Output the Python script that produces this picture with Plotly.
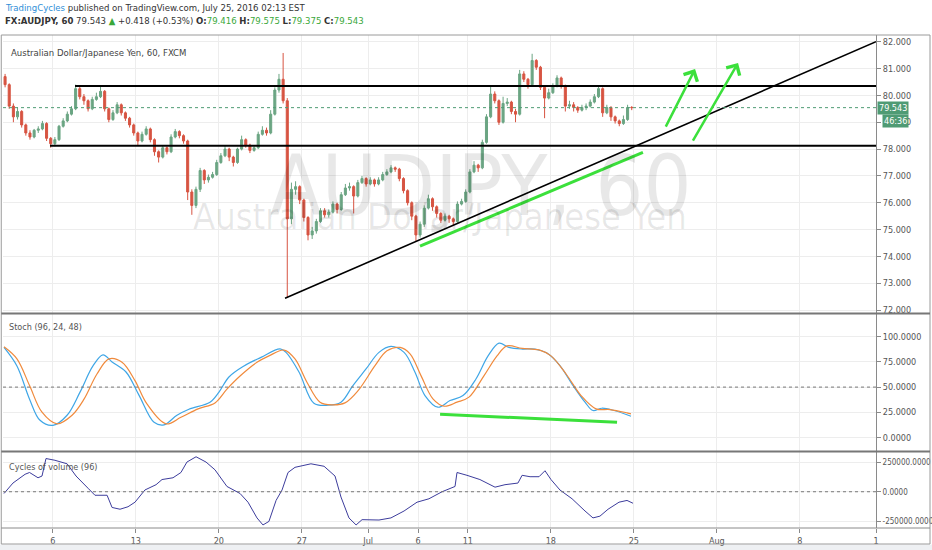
"""
AUD/JPY 60 - TradingView snapshot with Stoch and Cycles of volume panes
"""

import plotly.graph_objects as go

# ---- price data: 6-hour bars, x = trading days since Jun 1 2016 ----
first_open = 80.7
bars_per_day = 4

closes = [80.4, 79.6, 79.2, 79.4, 78.9, 78.6, 78.45, 78.7, 78.75, 78.95,
          78.4, 78.2, 78.35, 78.85, 79.05, 79.3, 79.5, 80.25, 79.95, 79.8,
          79.5, 79.85, 79.95, 80.15, 79.5, 79.1, 79.35, 79.65, 79.35, 79.15,
          78.9, 78.6, 78.3, 78.55, 78.75, 78.35, 77.9, 77.7, 78.05, 77.9,
          78.45, 78.65, 78.5, 78.3, 76.4, 75.9, 76.5, 77.2, 76.85, 76.95,
          77.05, 77.5, 77.75, 78.0, 77.7, 77.5, 78.0, 78.35, 78.15, 77.95,
          78.05, 78.55, 78.7, 78.6, 79.3, 80.2, 80.6, 79.8, 75.4, 76.5,
          76.6, 76.1, 75.45, 74.8, 74.95, 75.3, 75.7, 75.55, 75.65, 75.95,
          75.75, 76.3, 76.55, 76.6, 76.25, 76.75, 76.9, 76.7, 76.85, 76.7,
          76.85, 77.05, 77.15, 77.3, 77.25, 76.9, 76.45, 76.0, 75.5, 74.8,
          75.2, 75.8, 76.15, 75.85, 75.6, 75.35, 75.5, 75.4, 75.3, 75.95,
          76.05, 76.4, 77.15, 77.4, 77.3, 78.25, 79.2, 80.05, 79.8, 79.0,
          79.7, 79.75, 79.4, 79.3, 80.8, 80.6, 80.4, 81.3, 81.05, 80.3,
          79.9, 80.1, 80.35, 80.65, 80.35, 79.6, 79.65, 79.55, 79.45, 79.55,
          79.6, 79.75, 79.95, 80.25, 79.35, 79.55, 79.2, 79.05, 78.95, 79.1,
          79.55, 79.543]

highs = [80.8, 80.45, 79.7, 79.55, 79.45, 78.95, 78.7, 78.75, 78.85, 79.05,
         79.0, 78.45, 78.45, 78.9, 79.15, 79.4, 79.6, 80.4, 80.35, 80.05,
         79.85, 79.95, 80.1, 80.35, 80.2, 79.55, 79.45, 79.75, 79.7, 79.4,
         79.2, 78.95, 78.65, 78.65, 78.85, 78.8, 78.4, 77.95, 78.15, 78.1,
         78.55, 78.75, 78.7, 78.55, 78.35, 76.5, 76.6, 77.3, 77.25, 77.05,
         77.15, 77.6, 77.85, 78.15, 78.05, 77.75, 78.05, 78.5, 78.4, 78.2,
         78.15, 78.65, 78.85, 78.8, 79.45, 80.3, 80.8, 81.58, 79.9, 76.75,
         76.8, 76.65, 76.15, 75.5, 75.1, 75.4, 75.8, 75.8, 75.75, 76.05,
         76.0, 76.4, 76.7, 76.75, 76.65, 76.85, 77.0, 76.95, 76.95, 76.9,
         76.95, 77.15, 77.25, 77.4, 77.35, 77.3, 76.95, 76.5, 76.05, 75.55,
         75.3, 75.9, 76.3, 76.2, 75.9, 75.65, 75.6, 75.55, 75.45, 76.05,
         76.15, 76.5, 77.25, 77.55, 77.45, 78.35, 79.3, 80.35, 80.15, 79.85,
         79.95, 79.9, 79.8, 79.5, 80.95, 80.9, 80.65, 81.55, 81.35, 81.1,
         80.35, 80.25, 80.45, 80.75, 80.7, 80.4, 79.8, 79.75, 79.6, 79.65,
         79.7, 79.85, 80.05, 80.35, 80.3, 79.65, 79.6, 79.25, 79.1, 79.25,
         79.65, 79.6]

lows = [80.3, 79.5, 79.0, 79.1, 78.8, 78.5, 78.35, 78.4, 78.6, 78.7,
        78.3, 78.05, 78.1, 78.3, 78.8, 79.0, 79.25, 79.45, 79.85, 79.65,
        79.4, 79.45, 79.8, 79.9, 79.4, 79.0, 79.05, 79.3, 79.25, 79.05,
        78.8, 78.5, 78.15, 78.25, 78.5, 78.25, 77.75, 77.5, 77.65, 77.8,
        77.85, 78.4, 78.4, 78.2, 76.1, 75.55, 75.8, 76.4, 76.7, 76.75,
        76.9, 77.0, 77.45, 77.7, 77.55, 77.35, 77.45, 77.95, 78.05, 77.85,
        77.9, 78.0, 78.5, 78.5, 78.55, 79.25, 80.1, 79.7, 72.47, 75.2,
        76.3, 75.95, 75.3, 74.6, 74.65, 74.85, 75.25, 75.45, 75.45, 75.6,
        75.6, 75.7, 76.25, 76.45, 75.6, 76.2, 76.7, 76.6, 76.65, 76.6,
        76.65, 76.8, 77.0, 77.1, 77.15, 76.8, 76.35, 75.9, 75.35, 74.55,
        74.7, 75.1, 75.75, 75.7, 75.45, 75.25, 75.3, 75.25, 75.15, 75.25,
        75.9, 76.0, 76.35, 77.1, 77.15, 77.25, 78.2, 79.15, 79.7, 78.9,
        78.95, 79.6, 79.3, 79.0, 79.25, 80.5, 80.25, 80.35, 80.95, 80.2,
        79.15, 79.85, 80.05, 80.3, 80.25, 79.4, 79.5, 79.4, 79.35, 79.4,
        79.45, 79.55, 79.7, 79.9, 79.2, 79.3, 79.05, 78.95, 78.85, 78.9,
        79.05, 79.45]

# ---- Stoch (96, 24, 48) ----
stoch_k_day = [0.06, 0.84, 1.60, 2.23, 3.01, 3.86, 4.64, 5.42, 6.02, 6.57,
               7.41, 8.19, 9.10, 9.70, 10.48, 11.20, 12.47, 13.01, 13.61, 14.52,
               15.54, 16.69, 17.05, 17.83, 18.73, 19.58, 20.36, 21.08, 21.87, 22.65,
               23.37, 24.16, 24.82, 25.42, 26.20, 26.93, 27.71, 28.49, 29.22, 29.88,
               30.48, 31.27, 32.05, 32.77, 33.55, 34.28, 35.06, 35.54, 36.08, 36.81,
               37.83]
stoch_k = [89.4, 71, 38, 17, 12, 22, 45, 71, 82, 75,
           65, 42, 15, 12.5, 22, 28, 35, 45, 60, 71,
           79.5, 88, 84.5, 65, 34, 32, 35, 51.5, 68, 84.5,
           90.4, 84.5, 64.7, 41.6, 30, 36.6, 41.6, 58, 81, 93.7,
           89.4, 87.8, 87.8, 83.8, 71.3, 53, 35, 26.7, 29, 26.7,
           21]
stoch_d_day = [0.06, 0.84, 1.60, 2.35, 3.25, 4.16, 4.88, 5.66, 6.39, 7.17,
               7.95, 8.67, 9.82, 10.72, 11.75, 12.77, 13.49, 14.28, 15.30, 16.02,
               16.93, 17.59, 18.31, 19.10, 19.82, 20.60, 21.39, 22.41, 23.13, 23.92,
               24.52, 25.18, 25.90, 26.57, 27.35, 28.07, 28.98, 29.76, 30.36, 31.27,
               32.29, 33.01, 33.92, 34.82, 35.72, 36.57, 37.59, 37.83]
stoch_d = [90, 78, 51.5, 25, 13.5, 22, 38, 63, 78, 74.6,
           56.4, 33.3, 13.5, 20, 28.4, 34.3, 48, 61, 74.6, 81,
           86.8, 78, 54.8, 35, 32.3, 34.3, 46.5, 71.3, 86, 89.4,
           83, 61.4, 38.3, 31, 35, 40, 61.4, 81, 91, 88.4,
           87, 81, 63, 41.6, 28.4, 27.7, 24.4, 23.4]

# ---- Cycles of volume (96), in thousands ----
vol_day = [0.06, 0.60, 1.33, 1.60, 2.11, 2.35, 2.59, 3.13, 3.86, 4.40,
           5.12, 5.54, 6.27, 6.57, 7.05, 7.53, 7.95, 8.55, 9.22, 9.58,
           10.24, 10.72, 11.08, 11.63, 12.23, 12.77, 13.49, 14.28, 14.76, 15.30,
           15.66, 16.02, 16.45, 16.81, 17.17, 17.59, 18.07, 18.55, 19.34, 20.00,
           20.36, 20.84, 21.27, 21.63, 22.65, 23.37, 24.16, 24.94, 25.66, 26.45,
           27.23, 27.35, 27.95, 28.73, 29.64, 30.24, 31.02, 31.27, 31.75, 32.29,
           32.65, 33.01, 33.55, 34.28, 35.06, 35.54, 35.96, 36.45, 37.11, 37.59,
           37.95]
vol_cycle_k = [-15, 74, 149, 164, 119, 134, 283, 268, 238, 134,
               30, -30, -30, -134, -149, -128, -89, 15, 60, 104,
               119, 164, 253, 298, 253, 187, 45, -15, -89, -223,
               -283, -253, -74, 15, 164, 208, 223, 238, 217, 134,
               -45, -223, -283, -238, -241, -223, -164, -89, -60, 0,
               45, 164, 140, 104, 39, 60, 74, 140, 128, 128,
               179, 104, 15, -60, -164, -223, -208, -149, -89, -74,
               -98]

# ---- x axis labels (trading day of each label) ----
tick_days = [3, 8, 13, 18, 22, 25, 28, 33, 38, 43, 48, 52.59]
tick_text = ["6", "13", "20", "27", "Jul", "6", "11", "18", "25", "Aug", "8", "1"]

# ---- drawings ----
resistance = (4.34, 80.35)
support = (2.83, 78.12)
trend_line = (16.99, 72.44, 52.59, 82.0)
green_price_line = (25.12, 74.38, 38.55, 77.88)
green_stoch_line = (26.33, 23.0, 36.99, 15.0)
arrows = [(39.88, 78.78, 41.69, 80.98), (41.51, 78.26, 44.28, 81.21)]
last_price = 79.543
countdown = "46:36"

X_END = 52.59
NARROW = "Liberation Sans Narrow, DejaVu Sans Condensed, sans-serif"
GRID = "#ededed"
GREEN = "#3be03b"

opens = [first_open] + closes[:-1]
bar_days = [(i + 0.5) / bars_per_day for i in range(len(closes))]
highs = [max(h, o, c) for h, o, c in zip(highs, opens, closes)]
lows = [min(l, o, c) for l, o, c in zip(lows, opens, closes)]

fig = go.Figure()

fig.add_trace(go.Candlestick(
    x=bar_days, open=opens, high=highs, low=lows, close=closes,
    increasing=dict(line=dict(color="#6ba583", width=1), fillcolor="#6ba583"),
    decreasing=dict(line=dict(color="#d75442", width=1), fillcolor="#d75442"),
    whiskerwidth=0, xaxis="x", yaxis="y", showlegend=False, hoverinfo="skip"))

fig.add_trace(go.Scatter(x=stoch_k_day, y=stoch_k, mode="lines",
                         line=dict(color="#3fa6e6", width=1.2, shape="spline"),
                         xaxis="x2", yaxis="y2", showlegend=False))
fig.add_trace(go.Scatter(x=stoch_d_day, y=stoch_d, mode="lines",
                         line=dict(color="#f08a3c", width=1.2, shape="spline"),
                         xaxis="x2", yaxis="y2", showlegend=False))
fig.add_trace(go.Scatter(x=vol_day, y=[v * 1000 for v in vol_cycle_k], mode="lines",
                         line=dict(color="#3c3c9c", width=1),
                         xaxis="x3", yaxis="y3", showlegend=False))

xcommon = dict(range=[0, X_END], tickvals=tick_days, ticktext=tick_text,
               showgrid=True, gridcolor=GRID, zeroline=False, showline=False,
               fixedrange=True, automargin=False)
ycommon = dict(side="right", showgrid=True, gridcolor=GRID, zeroline=False,
               showline=True, linecolor="#8a8a8a", ticks="outside", ticklen=4,
               tickcolor="#8a8a8a", automargin=False, fixedrange=True)

fig.update_layout(
    width=932, height=550,
    margin=dict(l=3, r=56, t=35, b=22, autoexpand=False),
    paper_bgcolor="white", plot_bgcolor="white",
    hovermode=False,
    xaxis=dict(domain=[0, 1], anchor="y", showticklabels=False,
               rangeslider=dict(visible=False), **xcommon),
    xaxis2=dict(domain=[0, 1], anchor="y2", matches="x", showticklabels=False, **xcommon),
    xaxis3=dict(domain=[0, 1], anchor="y3", matches="x", showticklabels=True,
                ticks="outside", ticklen=4, tickcolor="#8a8a8a",
                tickfont=dict(family=NARROW, size=9, color="#555"), **xcommon),
    yaxis=dict(domain=[0.436, 1], anchor="x", range=[71.89, 82.25],
               tickvals=list(range(72, 83)), tickformat=".3f",
               tickfont=dict(family=NARROW, size=9, color="#555"), **ycommon),
    yaxis2=dict(domain=[0.156, 0.434], anchor="x2", range=[-13.6, 122.6],
                tickvals=[0, 25, 50, 75, 100], tickformat=".4f",
                tickfont=dict(family=NARROW, size=9, color="#555"), **ycommon),
    yaxis3=dict(domain=[0, 0.154], anchor="x3", range=[-309000, 338000],
                tickvals=[-250000, 0, 250000],
                ticktext=["-250000.0000", "0.0000", "250000.0000"],
                tickfont=dict(family=NARROW, size=8, color="#555"), **ycommon),
)

shapes = []
# support / resistance
shapes.append(dict(type="line", xref="x", yref="y", x0=resistance[0], x1=X_END,
                   y0=resistance[1], y1=resistance[1], line=dict(color="black", width=2)))
shapes.append(dict(type="line", xref="x", yref="y", x0=support[0], x1=X_END,
                   y0=support[1], y1=support[1], line=dict(color="black", width=2)))
# trendline
shapes.append(dict(type="line", xref="x", yref="y", x0=trend_line[0], y0=trend_line[1],
                   x1=trend_line[2], y1=trend_line[3], line=dict(color="black", width=1.6)))
# green lines
shapes.append(dict(type="line", xref="x", yref="y", x0=green_price_line[0], y0=green_price_line[1],
                   x1=green_price_line[2], y1=green_price_line[3], line=dict(color=GREEN, width=3)))
shapes.append(dict(type="line", xref="x2", yref="y2", x0=green_stoch_line[0], y0=green_stoch_line[1],
                   x1=green_stoch_line[2], y1=green_stoch_line[3], line=dict(color=GREEN, width=3)))
# last price dotted line
shapes.append(dict(type="line", xref="paper", yref="y", x0=0, x1=1, y0=last_price, y1=last_price,
                   line=dict(color="#4f9b74", width=1, dash="dot")))
# stoch 50 and volume 0 dotted lines
shapes.append(dict(type="line", xref="paper", yref="y2", x0=0, x1=1, y0=50, y1=50,
                   line=dict(color="#777", width=1, dash="dot")))
shapes.append(dict(type="line", xref="paper", yref="y3", x0=0, x1=1, y0=0, y1=0,
                   line=dict(color="#777", width=1, dash="dot")))
# frame and pane separators
frame_right = (930 - 3) / 873
frame_bottom = (528 - 544) / 493
shapes.append(dict(type="rect", xref="paper", yref="paper", x0=-0.002, x1=frame_right,
                   y0=frame_bottom, y1=1, line=dict(color="#9a9a9a", width=1)))
for ysep in [0.4351, 0.1552]:
    shapes.append(dict(type="line", xref="paper", yref="paper", x0=-0.002, x1=frame_right,
                       y0=ysep, y1=ysep, line=dict(color="#777", width=2)))
shapes.append(dict(type="line", xref="paper", yref="paper", x0=-0.002, x1=frame_right,
                   y0=0, y1=0, line=dict(color="#8a8a8a", width=1)))
shapes.append(dict(type="rect", xref="paper", yref="paper", x0=-0.01, x1=1.07,
                   y0=frame_bottom - 0.001, y1=-0.06, fillcolor="#eef0f3", line=dict(width=0),
                   layer="below"))
fig.update_layout(shapes=shapes)

ann = []
# watermark
ann.append(dict(xref="paper", yref="paper", x=0.5475, y=0.797, text="AUDJPY, 60",
                showarrow=False, font=dict(family=NARROW, size=84, color="rgba(0,0,0,0.09)")))
ann.append(dict(xref="paper", yref="paper", x=0.5006, y=0.631, text="Australian Dollar/Japanese Yen",
                showarrow=False, font=dict(family=NARROW, size=36, color="rgba(0,0,0,0.09)")))
# pane titles
ann.append(dict(xref="paper", yref="paper", x=0.007, y=0.9655, xanchor="left", yanchor="middle",
                text="Australian Dollar/Japanese Yen, 60, FXCM", showarrow=False,
                font=dict(family=NARROW, size=9.5, color="#444")))
ann.append(dict(xref="paper", yref="paper", x=0.005, y=0.4077, xanchor="left", yanchor="middle",
                text="Stoch (96, 24, 48)", showarrow=False,
                font=dict(family=NARROW, size=9, color="#555")))
ann.append(dict(xref="paper", yref="paper", x=0.005, y=0.1237, xanchor="left", yanchor="middle",
                text="Cycles of volume (96)", showarrow=False,
                font=dict(family=NARROW, size=9, color="#555")))
# header
ann.append(dict(xref="paper", yref="paper", x=0.0, y=1.0548, xanchor="left", yanchor="middle",
                text='<span style="color:#2f8fd8">TradingCycles</span> published on TradingView.com, '
                     'July 25, 2016 02:13 EST',
                showarrow=False, font=dict(family=NARROW, size=9.5, color="#333")))
g = '<span style="color:#3aa83a">'
ann.append(dict(xref="paper", yref="paper", x=0.0, y=1.0284, xanchor="left", yanchor="middle",
                text='<b>FX:AUDJPY, 60</b> 79.543 ' + g + '▲</span> +0.418 (+0.53%) '
                     '<b>O:</b>' + g + '79.416</span> <b>H:</b>' + g + '79.575</span> '
                     '<b>L:</b>' + g + '79.375</span> <b>C:</b>' + g + '79.543</span>',
                showarrow=False, font=dict(family=NARROW, size=9.5, color="#333")))
# last price / countdown labels
ann.append(dict(xref="paper", yref="y", x=1, y=last_price, xanchor="left", yanchor="middle",
                xshift=1, text="79.543", showarrow=False, bgcolor="#4f9b74", borderpad=1,
                font=dict(family=NARROW, size=9, color="white")))
ann.append(dict(xref="paper", yref="y", x=1, y=79.04, xanchor="left", yanchor="middle",
                xshift=6, text=countdown, showarrow=False, bgcolor="#4f9b74", borderpad=1,
                font=dict(family=NARROW, size=9, color="white")))
# green arrows
for x0, y0, x1, y1 in arrows:
    ann.append(dict(xref="x", yref="y", axref="x", ayref="y", x=x1, y=y1, ax=x0, ay=y0,
                    text="", showarrow=True, arrowhead=4, arrowsize=1.2, arrowwidth=2.5,
                    arrowcolor=GREEN))
fig.update_layout(annotations=ann)

fig.write_html("out.html", config={"displayModeBar": False},
               post_script="document.body.style.margin='0px';")
